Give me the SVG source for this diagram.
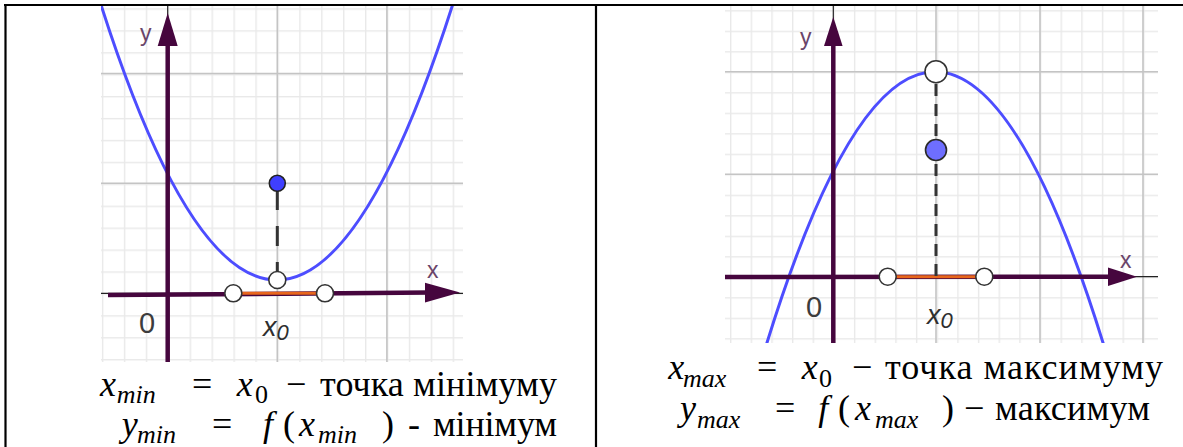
<svg xmlns="http://www.w3.org/2000/svg" width="1183" height="447" viewBox="0 0 1183 447">
<defs>
<pattern id="pL" x="167.7" y="293.3" width="21.92" height="21.92" patternUnits="userSpaceOnUse">
<rect x="0" y="0" width="21.92" height="1.4" fill="#e9e9e9"/>
<rect x="0" y="0" width="1.4" height="21.92" fill="#e9e9e9"/>
</pattern>
<pattern id="pR" x="833.3" y="276.7" width="20.66" height="20.5" patternUnits="userSpaceOnUse">
<rect x="0" y="0" width="20.66" height="1.4" fill="#e9e9e9"/>
<rect x="0" y="0" width="1.4" height="20.5" fill="#e9e9e9"/>
</pattern>
<clipPath id="cL"><rect x="101" y="5" width="362" height="357"/></clipPath>
<clipPath id="cR"><rect x="725" y="5" width="433" height="338"/></clipPath>
</defs>
<rect x="0" y="0" width="1183" height="447" fill="#fff"/>

<g id="graph-min">
<rect x="101" y="5" width="362" height="357" fill="url(#pL)"/>
<g stroke="#c4c4c4" stroke-width="1.6">
<line x1="277.3" y1="5" x2="277.3" y2="362"/>
<line x1="386.9" y1="5" x2="386.9" y2="362"/>
<line x1="101" y1="73.5" x2="463" y2="73.5"/>
<line x1="101" y1="183.3" x2="463" y2="183.3"/>
</g>
<g stroke="#222" stroke-width="1.2">
<line x1="101" y1="293.3" x2="463" y2="293.3"/>
<line x1="167.7" y1="5" x2="167.7" y2="362"/>
</g>
<path clip-path="url(#cL)" d="M96.8,-8.4 Q276.8,568.4 456.8,-8.4" fill="none" stroke="#4d4dff" stroke-width="3"/>
<g stroke="#46063e" stroke-width="4.5" fill="#46063e">
<line x1="167.7" y1="362" x2="167.7" y2="40"/>
<polygon stroke="none" points="167.7,13 157.7,46 177.7,46"/>
<line x1="108" y1="295" x2="430" y2="292.6"/>
<polygon stroke="none" points="460,292.6 425,282.8 425,302.4"/>
</g>
<line x1="233.3" y1="293.3" x2="325" y2="293.3" stroke="#e8661c" stroke-width="3"/>
<line x1="277.3" y1="190" x2="277.3" y2="272" stroke="#333" stroke-width="3" stroke-dasharray="20 16"/>
<g fill="#fff" stroke="#333" stroke-width="1.6">
<circle cx="233.3" cy="293.3" r="8.5"/>
<circle cx="325" cy="293.3" r="8.5"/>
<circle cx="277.3" cy="280" r="8.5"/>
</g>
<circle cx="277.3" cy="183.3" r="8" fill="#3f3fff" stroke="#222" stroke-width="1.6"/>
</g>

<g id="graph-max">
<rect x="725" y="5" width="433" height="338" fill="url(#pR)"/>
<g stroke="#c4c4c4" stroke-width="1.6">
<line x1="936" y1="5" x2="936" y2="343"/>
<line x1="1040" y1="5" x2="1040" y2="343"/>
<line x1="1143" y1="5" x2="1143" y2="343"/>
<line x1="725" y1="71.7" x2="1158" y2="71.7"/>
<line x1="725" y1="174.2" x2="1158" y2="174.2"/>
</g>
<g stroke="#222" stroke-width="1.2">
<line x1="725" y1="276.7" x2="1158" y2="276.7"/>
<line x1="833.3" y1="5" x2="833.3" y2="343"/>
</g>
<path clip-path="url(#cR)" d="M760,365.7 Q935,-222.3 1110,365.7" fill="none" stroke="#4d4dff" stroke-width="3"/>
<g stroke="#46063e" stroke-width="4.5" fill="#46063e">
<line x1="833.3" y1="343" x2="833.3" y2="40"/>
<polygon stroke="none" points="833.3,17 824,46 842.6,46"/>
<line x1="725" y1="277" x2="1115" y2="276.7"/>
<polygon stroke="none" points="1137,276.7 1108,267.5 1108,286"/>
</g>
<line x1="887.7" y1="276.7" x2="984.3" y2="276.7" stroke="#e8661c" stroke-width="3"/>
<line x1="936" y1="84" x2="936" y2="276.7" stroke="#333" stroke-width="3" stroke-dasharray="12 8"/>
<g fill="#fff" stroke="#333" stroke-width="1.6">
<circle cx="887.7" cy="276.7" r="8.5"/>
<circle cx="984.3" cy="276.7" r="8.5"/>
<circle cx="936" cy="71.7" r="11"/>
</g>
<circle cx="936" cy="150" r="10.5" fill="#6e6eff" stroke="#2a2a2a" stroke-width="1.6"/>
</g>

<text font-family="Liberation Sans" font-size="23" fill="#6a456a" x="140" y="41">y</text>
<text font-family="Liberation Sans" font-size="23" fill="#6a456a" x="427" y="278">x</text>
<text font-family="Liberation Sans" font-size="29" fill="#3c3c3c" x="139" y="333">0</text>
<text font-family="Liberation Sans" font-style="italic" fill="#2e2e2e" x="263" y="336" font-size="27">x<tspan font-size="22" dy="4">0</tspan></text>
<text font-family="Liberation Sans" font-size="23" fill="#6a456a" x="800" y="45">y</text>
<text font-family="Liberation Sans" font-size="23" fill="#6a456a" x="1120" y="268">x</text>
<text font-family="Liberation Sans" font-size="29" fill="#3c3c3c" x="806" y="317">0</text>
<text font-family="Liberation Sans" font-style="italic" fill="#2e2e2e" x="927" y="324" font-size="27">x<tspan font-size="22" dy="4">0</tspan></text>

<text font-family="Liberation Serif" font-size="36" x="100" y="396"><tspan font-style="italic">x</tspan></text>
<text font-family="Liberation Serif" font-style="italic" font-size="26" x="116.7" y="403">min</text>
<text font-family="Liberation Serif" font-size="36" x="192" y="396">=</text>
<text font-family="Liberation Serif" font-style="italic" font-size="36" x="236.7" y="396">x</text>
<text font-family="Liberation Serif" font-size="26" x="255" y="403">0</text>
<text font-family="Liberation Serif" font-size="36" x="286" y="396">−</text>
<text font-family="Liberation Serif" font-size="36" x="320" y="396" textLength="237">точка мінімуму</text>
<text font-family="Liberation Serif" font-style="italic" font-size="36" x="121.7" y="436">y</text>
<text font-family="Liberation Serif" font-style="italic" font-size="26" x="137" y="443">min</text>
<text font-family="Liberation Serif" font-size="36" x="212" y="436">=</text>
<text font-family="Liberation Serif" font-style="italic" font-size="36" x="263" y="436">f</text>
<text font-family="Liberation Serif" font-size="36" x="283" y="436">(</text>
<text font-family="Liberation Serif" font-style="italic" font-size="36" x="299" y="436">x</text>
<text font-family="Liberation Serif" font-style="italic" font-size="26" x="318" y="443">min</text>
<text font-family="Liberation Serif" font-size="36" x="382" y="436">)</text>
<text font-family="Liberation Serif" font-size="36" x="408" y="436">-</text>
<text font-family="Liberation Serif" font-size="36" x="433" y="436" textLength="124">мінімум</text>

<text font-family="Liberation Serif" font-style="italic" font-size="36" x="668.3" y="379">x</text>
<text font-family="Liberation Serif" font-style="italic" font-size="26" x="683" y="387">max</text>
<text font-family="Liberation Serif" font-size="36" x="757" y="379">=</text>
<text font-family="Liberation Serif" font-style="italic" font-size="36" x="801.7" y="379">x</text>
<text font-family="Liberation Serif" font-size="26" x="819" y="387">0</text>
<text font-family="Liberation Serif" font-size="36" x="852" y="379">−</text>
<text font-family="Liberation Serif" font-size="36" x="885" y="379" textLength="278">точка максимуму</text>
<text font-family="Liberation Serif" font-style="italic" font-size="36" x="680" y="420">y</text>
<text font-family="Liberation Serif" font-style="italic" font-size="26" x="697" y="428">max</text>
<text font-family="Liberation Serif" font-size="36" x="775" y="420">=</text>
<text font-family="Liberation Serif" font-style="italic" font-size="36" x="818.3" y="420">f</text>
<text font-family="Liberation Serif" font-size="36" x="838" y="420">(</text>
<text font-family="Liberation Serif" font-style="italic" font-size="36" x="855" y="420">x</text>
<text font-family="Liberation Serif" font-style="italic" font-size="26" x="875" y="428">max</text>
<text font-family="Liberation Serif" font-size="36" x="942" y="420">)</text>
<text font-family="Liberation Serif" font-size="36" x="964" y="420">−</text>
<text font-family="Liberation Serif" font-size="36" x="995" y="420" textLength="155">максимум</text>

<g id="table" stroke="#000" stroke-width="2.2">
<line x1="4" y1="5" x2="1183" y2="5"/>
<line x1="5.5" y1="4" x2="5.5" y2="447"/>
<line x1="596" y1="4" x2="596" y2="447"/>
</g>
</svg>
